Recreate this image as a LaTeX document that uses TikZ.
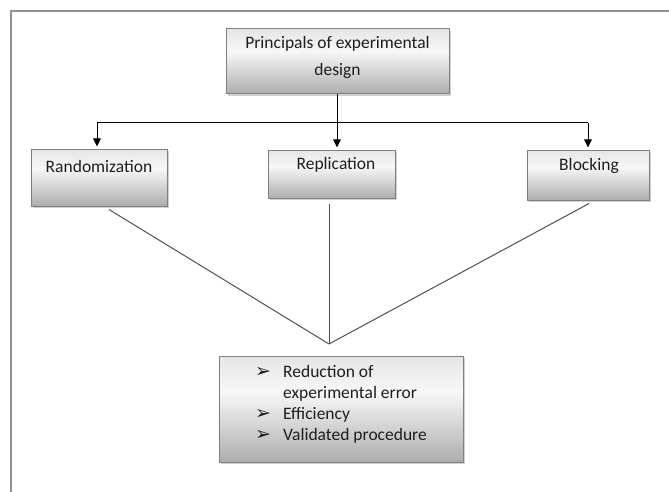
\documentclass[tikz,border=0pt]{standalone}
\usepackage{fontspec}
\setmainfont{Carlito}
\newfontfamily\symfont{DejaVu Sans}
\usetikzlibrary{arrows.meta,shadows,calc}
\pgfdeclareverticalshading{boxshade}{100bp}{color(0bp)=(gray!64); color(25bp)=(gray!64); color(58bp)=(gray!6); color(75bp)=(gray!20); color(100bp)=(gray!20)}
\definecolor{linec}{HTML}{505050}
\definecolor{textc}{HTML}{1E1E1E}
\definecolor{framec}{HTML}{909090}
\definecolor{borderc}{HTML}{7F7F7F}
\newcommand{\bul}{\makebox[28pt][l]{\symfont\fontsize{19}{21}\selectfont ➢}}
\begin{document}
\begin{tikzpicture}[x=1pt,y=-1pt,
  boxnode/.style={draw=borderc, line width=1pt, shade, shading=boxshade, inner sep=0pt,
    drop shadow={shadow xshift=2pt, shadow yshift=-2pt, fill=gray!45, opacity=0.8}},
  lbl/.style={text=textc, font=\fontsize{17.5}{21}\selectfont, inner sep=0pt, text height=12pt, text depth=3pt},
  conn/.style={draw=linec, line width=1pt},
  arr/.style={draw=black, line width=1pt, -{Triangle[length=8pt,width=7.5pt]}, shorten >=2pt}]
\useasboundingbox (0,0) rectangle (669,492);
\draw[framec, line width=1.3pt] (11,492) -- (11,11) -- (669,11);

\node[boxnode, minimum width=223pt, minimum height=65pt] (top) at (337.5,61.5) {};
\node[text=textc, inner sep=0pt, align=center, font=\fontsize{17.5}{27}\selectfont] (toptext) at (337.5,57) {Principals of experimental\\design};

\node[boxnode, minimum width=136pt, minimum height=57pt] (rand) at (99,177.5) {};
\node[lbl] (randt) at (99,168) {Randomization};
\node[boxnode, minimum width=127pt, minimum height=48pt] (rep) at (331.5,174) {};
\node[lbl] (rept) at (336,165) {Replication};
\node[boxnode, minimum width=122pt, minimum height=50pt] (blk) at (588,175) {};
\node[lbl] (blkt) at (589,166) {Blocking};
\node[boxnode, minimum width=244pt, minimum height=106pt] (res) at (341,409) {};
\node[text=textc, inner sep=0pt, anchor=north west, font=\fontsize{17.5}{21}\selectfont] (rest) at (255,363)
  {\begin{tabular}{@{}l@{}}\bul Reduction of\\ \hspace*{28pt}experimental error\\ \bul Efficiency\\ \bul Validated procedure\end{tabular}};

\coordinate (hub) at (337,123);
\coordinate (hl) at (97,123);
\coordinate (hr) at (588,123);
\draw[draw=black, line width=1pt] (top.south -| hub) -- (hub);
\draw[draw=black, line width=1pt] (hl) -- (hr);
\draw[arr] (hl) -- (hl |- rand.north);
\draw[arr] (hub) -- (hub |- rep.north);
\draw[arr] (hr) -- (hr |- blk.north);

\coordinate (conv) at (329,344);
\draw[conn] ($(rand.south)+(10,3)$) -- (conv);
\draw[conn] ($(rep.south)+(-2.5,5)$) -- (conv);
\draw[conn] ($(blk.south)+(1,3)$) -- (conv);
\end{tikzpicture}
\end{document}
